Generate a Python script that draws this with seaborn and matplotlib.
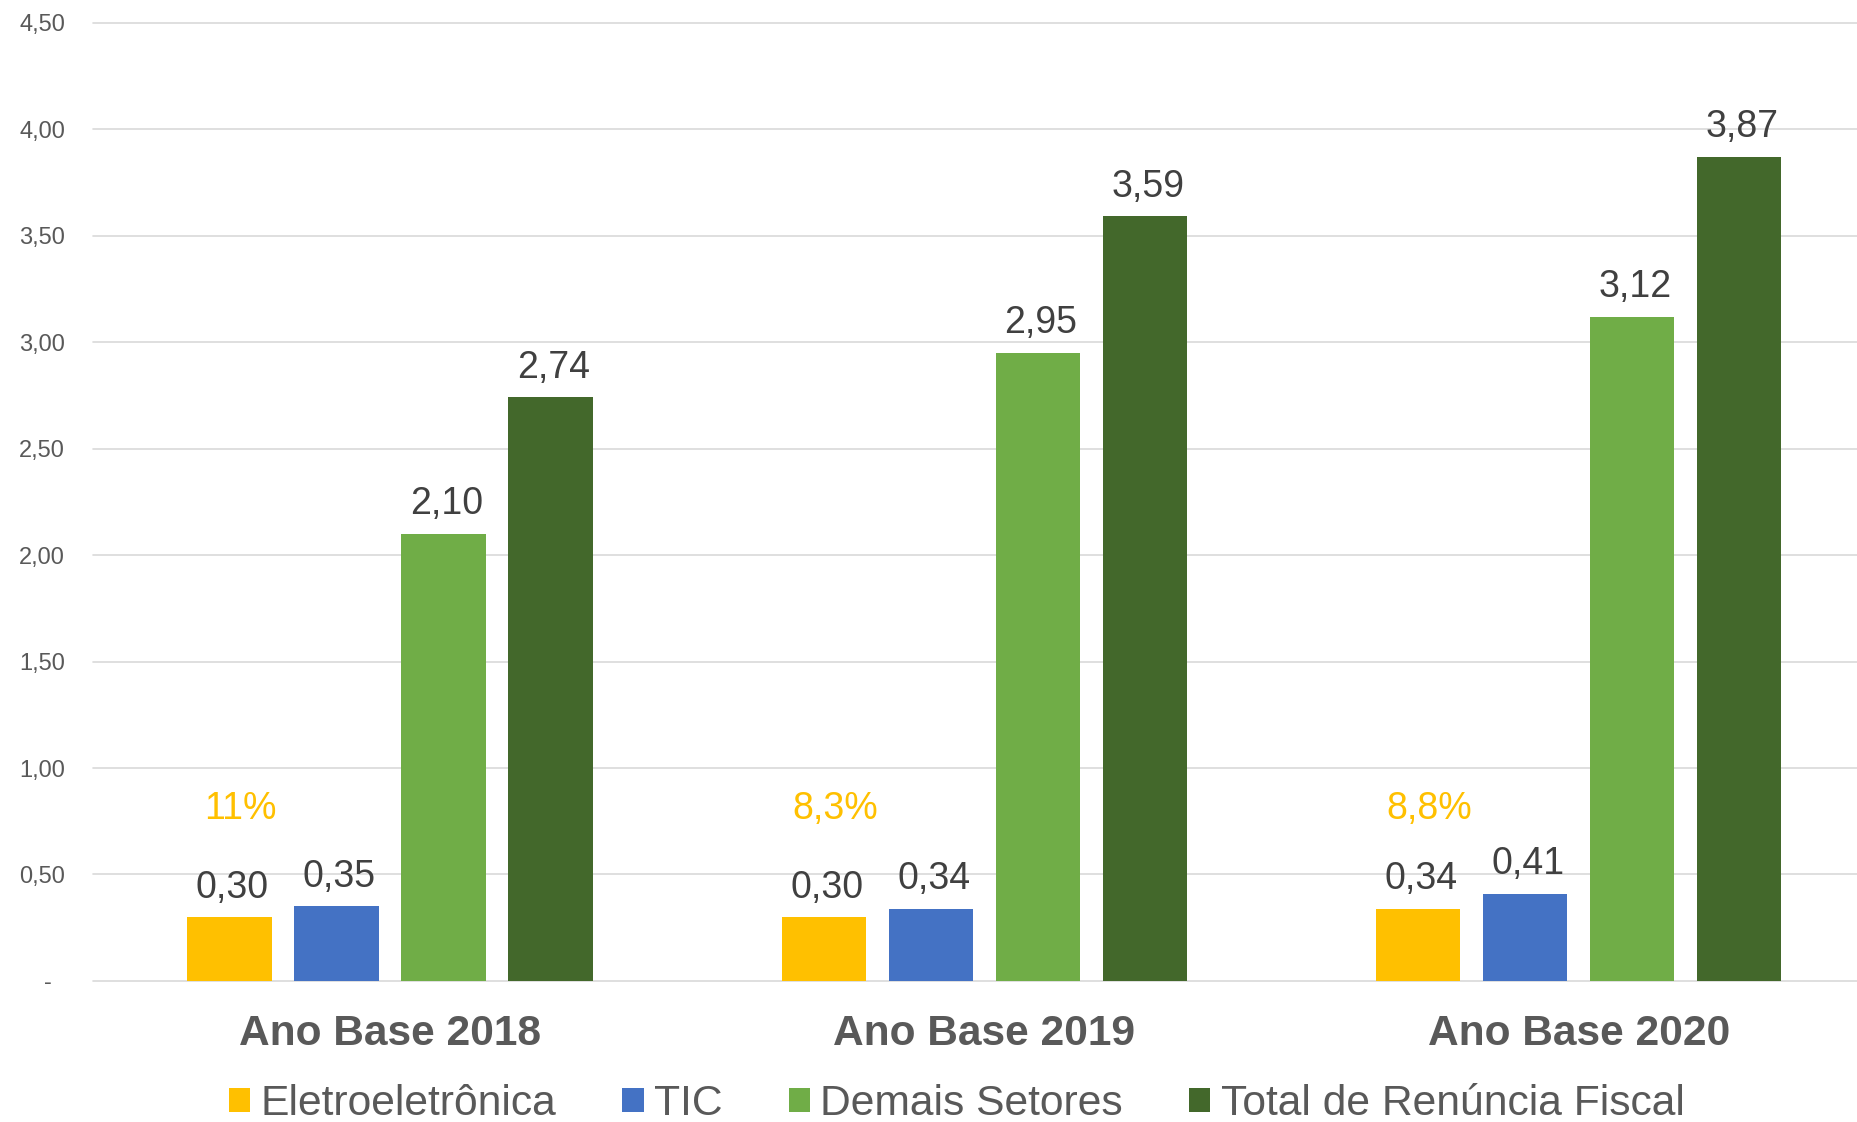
import numpy as np
import pandas as pd
import matplotlib
matplotlib.use("Agg")
import matplotlib.pyplot as plt
from matplotlib.ticker import FuncFormatter, MultipleLocator
import seaborn as sns

# Dados do gráfico (R$ bilhões)
anos = ["Ano Base 2018", "Ano Base 2019", "Ano Base 2020"]
series = ["Eletroeletrônica", "TIC", "Demais Setores", "Total de Renúncia Fiscal"]
eletro = [0.30, 0.30, 0.34]
tic = [0.35, 0.34, 0.41]
demais = [2.10, 2.95, 3.12]
total = [2.74, 3.59, 3.87]
pct_eletro = ["11%", "8,3%", "8,8%"]

cores = ["#FFC000", "#4472C4", "#70AD47", "#43682B"]

df = pd.DataFrame({
    "ano": anos * 4,
    "serie": [s for s in series for _ in anos],
    "valor": eletro + tic + demais + total,
})

sns.set_style("white")
plt.rcParams["font.family"] = ["Liberation Sans", "DejaVu Sans"]

fig = plt.figure(figsize=(18.58, 11.22), dpi=100)
ax = fig.add_axes([0.050, 0.1257, 0.950, 0.8541])

sns.barplot(data=df, x="ano", y="valor", hue="serie", hue_order=series,
            order=anos, palette=cores, width=0.72, gap=0.21,
            linewidth=0, saturation=1, ax=ax)

ax.set_xlim(-0.5, 2.47)
ax.set_ylim(0, 4.5)
ax.yaxis.set_major_locator(MultipleLocator(0.5))
ax.yaxis.set_major_formatter(FuncFormatter(
    lambda v, p: "-  " if abs(v) < 1e-9 else f"{v:.2f}".replace(".", ",")))
ax.grid(axis="y", color="#D9D9D9", linewidth=1.2)
ax.set_axisbelow(True)
for gl in ax.get_ygridlines():
    gl.set_clip_on(False)
for s in ["top", "right", "left", "bottom"]:
    ax.spines[s].set_visible(False)

ax.tick_params(axis="y", length=0, pad=20, labelsize=17, labelcolor="#595959")
ax.tick_params(axis="x", length=0, pad=24, labelsize=30.6, labelcolor="#595959")
for lbl in ax.get_xticklabels():
    lbl.set_fontweight("bold")
ax.set_xlabel("")
ax.set_ylabel("")

# rótulos de valor
for cont in ax.containers:
    for bar in cont:
        h = bar.get_height()
        ax.annotate(f"{h:.2f}".replace(".", ","),
                    (bar.get_x() + bar.get_width() / 2, h),
                    xytext=(2, 14), textcoords="offset points",
                    ha="center", va="baseline", fontsize=27, color="#404040")

# participação da eletroeletrônica
for bar, txt in zip(ax.containers[0], pct_eletro):
    ax.annotate(txt, (bar.get_x() + bar.get_width() / 2, 0.76),
                xytext=(8, 0), textcoords="offset points",
                ha="center", va="baseline", fontsize=27, color="#FFC000")

handles, labels = ax.get_legend_handles_labels()
ax.get_legend().remove()
fig.legend(handles, labels, loc="center left", bbox_to_anchor=(0.1233, 0.016),
           ncol=4, frameon=False, fontsize=30.7, labelcolor="#595959",
           handlelength=0.5, handleheight=0.5, handletextpad=0.24,
           columnspacing=1.55, borderpad=0, borderaxespad=0)

fig.savefig("out.png", dpi=100)
